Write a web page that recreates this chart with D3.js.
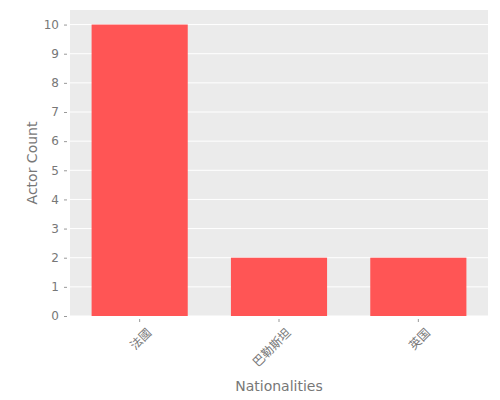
<!DOCTYPE html>
<html><head><meta charset="utf-8">
<script src="https://cdn.jsdelivr.net/npm/d3@7"></script>
<style>body{margin:0;background:#fff}</style>
</head><body>
<svg id="chart" width="500" height="400"></svg>
<script>
var nationalities = ["法國", "巴勒斯坦", "英国"];
var actorCounts = [10, 2, 2];
var yTicks = [0,1,2,3,4,5,6,7,8,9,10];

var margin = {left: 70, right: 12, top: 10, bottom: 84};
var svg = d3.select("#chart");
var w = 500 - margin.left - margin.right, h = 400 - margin.top - margin.bottom;
var g = svg.append("g").attr("transform", "translate(" + margin.left + "," + margin.top + ")");
var font = "'DejaVu Sans', 'Noto Sans CJK SC', sans-serif";

var x = d3.scaleBand().domain(nationalities).range([0, w]).paddingInner(0.31).paddingOuter(0.155);
var y = d3.scaleLinear().domain([0, 10.5]).range([h, 0]);

g.append("rect").attr("width", w).attr("height", h).attr("fill", "#ebebeb");
g.selectAll(".grid").data(yTicks).enter().append("line")
  .attr("x1", 0).attr("x2", w).attr("y1", d => y(d)).attr("y2", d => y(d))
  .attr("stroke", "#fff").attr("stroke-width", 1);

g.selectAll(".bar").data(nationalities).enter().append("rect")
  .attr("x", d => x(d)).attr("width", x.bandwidth())
  .attr("y", (d, i) => y(actorCounts[i])).attr("height", (d, i) => h - y(actorCounts[i]))
  .attr("fill", "#ff5555");

var ya = g.append("g").attr("transform", "translate(-3,0)")
  .call(d3.axisLeft(y).tickValues(yTicks).tickSize(3).tickPadding(5).tickFormat(d3.format("d")));
ya.select(".domain").remove();
ya.selectAll("line").attr("stroke", "#999");
ya.selectAll("text").attr("fill", "#777").style("font-size", "12px").style("font-family", font);

var xa = g.append("g").attr("transform", "translate(0," + (h + 3) + ")")
  .call(d3.axisBottom(x).tickSize(3).tickPadding(5));
xa.select(".domain").remove();
xa.selectAll("line").attr("stroke", "#999");
xa.selectAll("text").attr("fill", "#777").style("font-size", "12px").style("font-family", font)
  .attr("text-anchor", "end").attr("dy", "0.35em")
  .attr("transform", "translate(4,6) rotate(-45)");

svg.append("text").attr("x", margin.left + w / 2).attr("y", 391).attr("text-anchor", "middle")
  .attr("fill", "#777").style("font-size", "14px").style("font-family", font).text("Nationalities");
svg.append("text").attr("transform", "translate(37," + (margin.top + h / 2) + ") rotate(-90)")
  .attr("text-anchor", "middle").attr("fill", "#777").style("font-size", "14px")
  .style("font-family", font).text("Actor Count");
</script>
</body></html>
